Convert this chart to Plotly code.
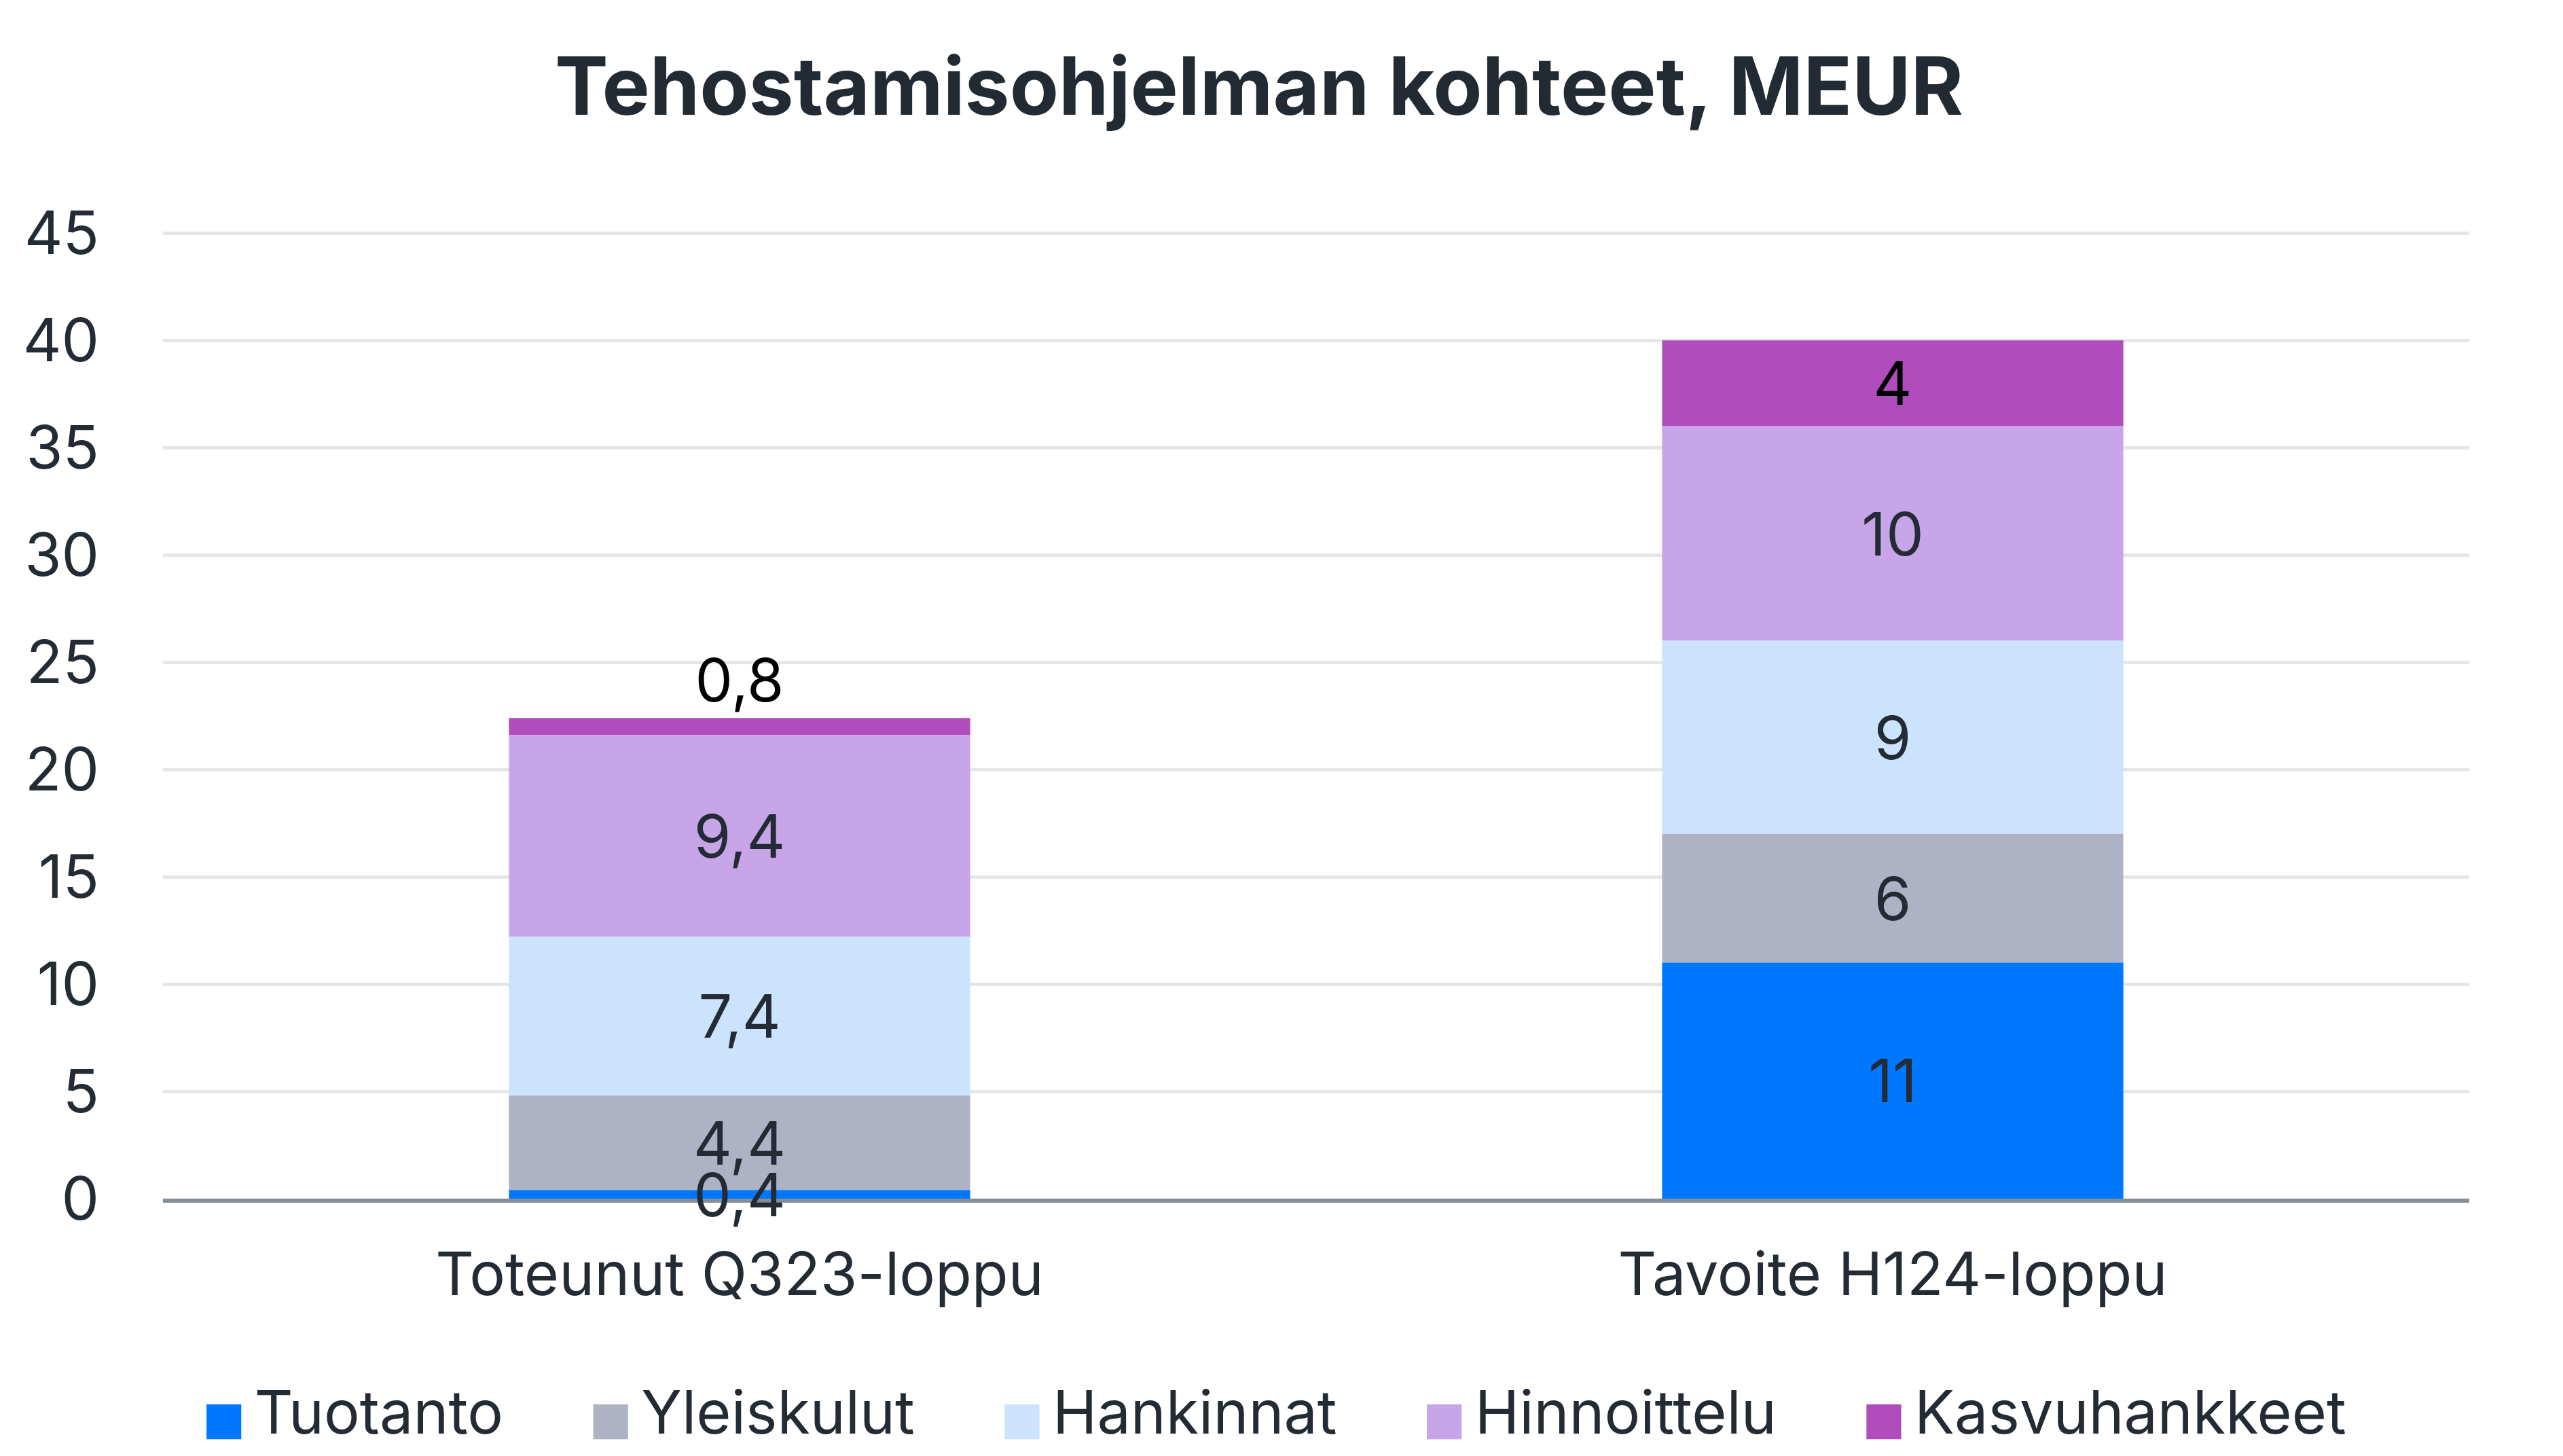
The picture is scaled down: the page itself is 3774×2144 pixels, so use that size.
import plotly.graph_objects as go

# ---------------- data ----------------
categories = ["Toteunut Q323-loppu", "Tavoite H124-loppu"]
series_names = ["Tuotanto", "Yleiskulut", "Hankinnat", "Hinnoittelu", "Kasvuhankkeet"]
tuotanto = [0.4, 11]
yleiskulut = [4.4, 6]
hankinnat = [7.4, 9]
hinnoittelu = [9.4, 10]
kasvuhankkeet = [0.8, 4]
y_ticks = [0, 5, 10, 15, 20, 25, 30, 35, 40, 45]
title_text = "Tehostamisohjelman kohteet, MEUR"

# ---------------- styles ----------------
series_values = [tuotanto, yleiskulut, hankinnat, hinnoittelu, kasvuhankkeet]
colors = ["#0077FF", "#ADB3C5", "#CCE3FD", "#C8A4E9", "#B04CBB"]
text_dark = "#232B35"
FONT = "Inter"
FS = 88


def fmt(v):
    return f"{v:g}".replace(".", ",")


# stacked bases computed from the series
bases = []
running = [0.0] * len(categories)
for vals in series_values:
    bases.append(list(running))
    running = [r + v for r, v in zip(running, vals)]

fig = go.Figure()
n = len(series_names)
# draw top segments first so that the bottom labels end up on top
for i in reversed(range(n)):
    name, vals, col, base = series_names[i], series_values[i], colors[i], bases[i]
    is_top = i == n - 1
    fig.add_trace(go.Bar(
        x=categories,
        y=vals,
        base=base,
        name=name,
        width=0.4,
        marker=dict(color=col, line=dict(width=0)),
        text=[fmt(v) for v in vals],
        textposition=["outside", "inside"] if is_top else "inside",
        insidetextanchor="middle",
        textangle=0,
        textfont=dict(family=FONT, size=FS, color="#000000" if is_top else text_dark),
        outsidetextfont=dict(family=FONT, size=FS, color="#000000"),
        insidetextfont=dict(family=FONT, size=FS, color="#000000" if is_top else text_dark),
        cliponaxis=False,
        showlegend=False,
        hoverinfo="skip",
    ))

# legend entries with large coloured squares
for name, col in zip(series_names, colors):
    fig.add_trace(go.Scatter(
        x=[None], y=[None], mode="lines",
        line=dict(color="rgba(0,0,0,0)", width=0),
        name=(f'<span style="color:{col};font-family:DejaVu Sans;font-size:67px">■\u2009</span>'
              f'{name}\u00a0\u00a0\u2009\u2009'),
        showlegend=True,
        hoverinfo="skip",
    ))

fig.update_layout(
    width=3774,
    height=2144,
    barmode="overlay",
    plot_bgcolor="white",
    paper_bgcolor="white",
    margin=dict(l=232, r=146, t=332, b=387, pad=0, autoexpand=False),
    font=dict(family=FONT, size=FS, color=text_dark),
    title=dict(
        text=title_text,
        font=dict(family=FONT, size=118, color="#222A33", weight=700),
        x=1846 / 3774, xanchor="center", xref="container",
        y=1 - 120 / 2144, yanchor="middle", yref="container",
    ),
    uniformtext=dict(minsize=FS, mode="show"),
    legend=dict(
        orientation="h",
        xref="container", yref="container",
        x=250 / 3774, xanchor="left",
        y=1 - 2005 / 2144, yanchor="top",
        font=dict(family=FONT, size=FS, color=text_dark),
        itemwidth=30,
        bgcolor="rgba(0,0,0,0)",
        traceorder="normal",
    ),
    showlegend=True,
)

fig.update_xaxes(
    type="category",
    showgrid=False,
    showline=True, linecolor="#858D96", linewidth=6,
    layer="below traces",
    ticks="", ticklabelstandoff=30,
    tickfont=dict(family=FONT, size=FS, color=text_dark),
)
fig.update_yaxes(
    range=[0, 45.1],
    tickvals=y_ticks,
    ticktext=[str(t) for t in y_ticks],
    showgrid=True, gridcolor="#E4E6E9", gridwidth=5,
    zeroline=False,
    showline=False,
    layer="below traces",
    ticks="", ticklabelstandoff=93,
    tickfont=dict(family=FONT, size=FS, color=text_dark),
)

fig.write_html("out.html")
